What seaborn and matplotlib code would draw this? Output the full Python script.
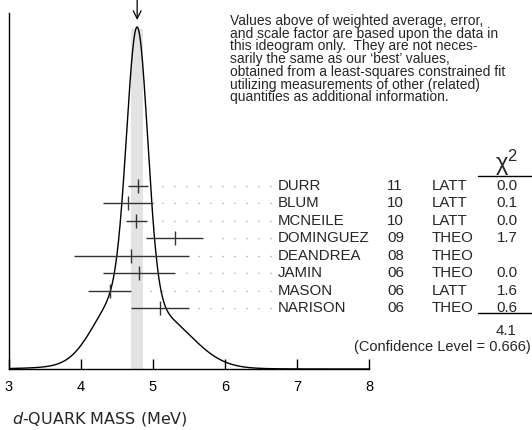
import numpy as np
import pandas as pd
import matplotlib
matplotlib.use("Agg")
import matplotlib.pyplot as plt
import seaborn as sns

# Measurements entering the ideogram
authors = ["DURR", "BLUM", "MCNEILE", "DOMINGUEZ", "DEANDREA", "JAMIN", "MASON", "NARISON"]
years = ["11", "10", "10", "09", "08", "06", "06", "06"]
methods = ["LATT", "LATT", "LATT", "THEO", "THEO", "THEO", "LATT", "THEO"]
values = [4.79, 4.65, 4.77, 5.3, 4.7, 4.8, 4.4, 5.1]
errors = [0.14, 0.35, 0.15, 0.4, 0.8, 0.5, 0.3, 0.4]
chi2 = ["0.0", "0.1", "0.0", "1.7", "", "0.0", "1.6", "0.6"]
chi2_total = "4.1"
confidence_level = "0.666"
average = 4.78
average_error = 0.08
xticks = [3, 4, 5, 6, 7, 8]
note_lines = [
    "Values above of weighted average, error,",
    "and scale factor are based upon the data in",
    "this ideogram only.  They are not neces-",
    "sarily the same as our \u2018best\u2019 values,",
    "obtained from a least-squares constrained fit",
    "utilizing measurements of other (related)",
    "quantities as additional information.",
]

df = pd.DataFrame({"author": authors, "year": years, "method": methods,
                   "value": values, "error": errors, "chi2": chi2})

# Ideogram: one Gaussian per measurement, area proportional to 1/error
grid = np.linspace(3.0, 8.0, 1201)
curve = np.zeros_like(grid)
for v, e in zip(df["value"], df["error"]):
    curve += np.exp(-0.5 * ((grid - v) / e) ** 2) / e ** 2
curve /= curve.max()
ideo = pd.DataFrame({"mass": grid, "density": curve})

sns.set_style("white")
plt.rcParams["font.family"] = ["Liberation Sans", "DejaVu Sans"]

W, H = 532, 430
fig = plt.figure(figsize=(W / 100, H / 100), dpi=100)
ax = fig.add_axes([9 / W, 61 / H, 360 / W, 356 / H])
ax.set_xlim(3, 8)
ax.set_ylim(0, 1.041)
ax.patch.set_alpha(0)

def px_x(px):
    return 3 + (px - 9) / 72.0

def px_y(py):
    return (369 - py) / 342.0

FS = 10.8

# weighted-average band
ax.fill_between([average - average_error, average + average_error], 0, 0.994,
                color="#e3e3e3", lw=0, zorder=0)

sns.lineplot(data=ideo, x="mass", y="density", ax=ax, color="black", lw=1.0,
             zorder=3, estimator=None, sort=False)

# arrow marking the weighted average
ax.annotate("", xy=(average, px_y(20)), xytext=(average, px_y(-2)),
            xycoords="data", annotation_clip=False,
            arrowprops=dict(arrowstyle="->", color="black", lw=0.9,
                            mutation_scale=14, shrinkA=0, shrinkB=0))

row_y = [px_y(186 + 17.45 * i) for i in range(len(df))]
dot_end = px_x(271)
for i, r in df.iterrows():
    y = row_y[i]
    ax.errorbar(r["value"], y, xerr=r["error"], fmt="none", ecolor="#333333",
                elinewidth=1.0, capsize=0, zorder=4)
    ax.plot([r["value"]], [y], marker="|", markersize=10, mew=1.0,
            color="#333333", zorder=4)
    ax.plot([dot_end, r["value"] + r["error"] + 0.12], [y, y], color="#888888",
            lw=1.0, linestyle=(0, (0.72, 7.92)), solid_capstyle="butt",
            dash_capstyle="butt", zorder=2, clip_on=False)
    kw = dict(fontsize=FS, va="center", clip_on=False)
    ax.text(px_x(278), y, r["author"], ha="left", **kw)
    ax.text(px_x(387), y, r["year"], ha="left", **kw)
    ax.text(px_x(432), y, r["method"], ha="left", **kw)
    ax.text(px_x(507), y, r["chi2"], ha="center", **kw)

# chi-square column header, rules and totals
ax.text(px_x(507), px_y(163), r"$\mathregular{\chi^2}$", ha="center", va="center",
        fontsize=17, clip_on=False)
ax.plot([px_x(478), px_x(533)], [px_y(176), px_y(176)], color="black", lw=1.0,
        clip_on=False)
ax.plot([px_x(478), px_x(533)], [px_y(313), px_y(313)], color="black", lw=1.0,
        clip_on=False)
ax.text(px_x(506), px_y(331), chi2_total, ha="center", va="center",
        fontsize=FS, clip_on=False)
ax.text(px_x(531), px_y(347), f"(Confidence Level = {confidence_level})",
        ha="right", va="center", fontsize=10.5, clip_on=False)

# explanatory note
for k, line in enumerate(note_lines):
    fig.text(230 / W, 1 - (25 + 12.7 * k) / H, line, ha="left", va="baseline",
             fontsize=10)

# axes styling
for side in ["top", "right"]:
    ax.spines[side].set_visible(False)
for side in ["left", "bottom"]:
    ax.spines[side].set_color("black")
    ax.spines[side].set_linewidth(1.0)
ax.set_xticks(xticks)
ax.set_xticklabels([str(t) for t in xticks])
ax.tick_params(axis="x", direction="in", length=7.2, width=1.0, pad=8,
               labelsize=10.5, colors="black", bottom=True)
ax.set_yticks([])
ax.set_xlabel("")
ax.set_ylabel("")

fig.text(12 / W, 1 - 419 / H, r"$d$-QUARK MASS (MeV)", ha="left", va="center",
         fontsize=11.5, family="DejaVu Sans")

fig.savefig("out.png", dpi=100)
